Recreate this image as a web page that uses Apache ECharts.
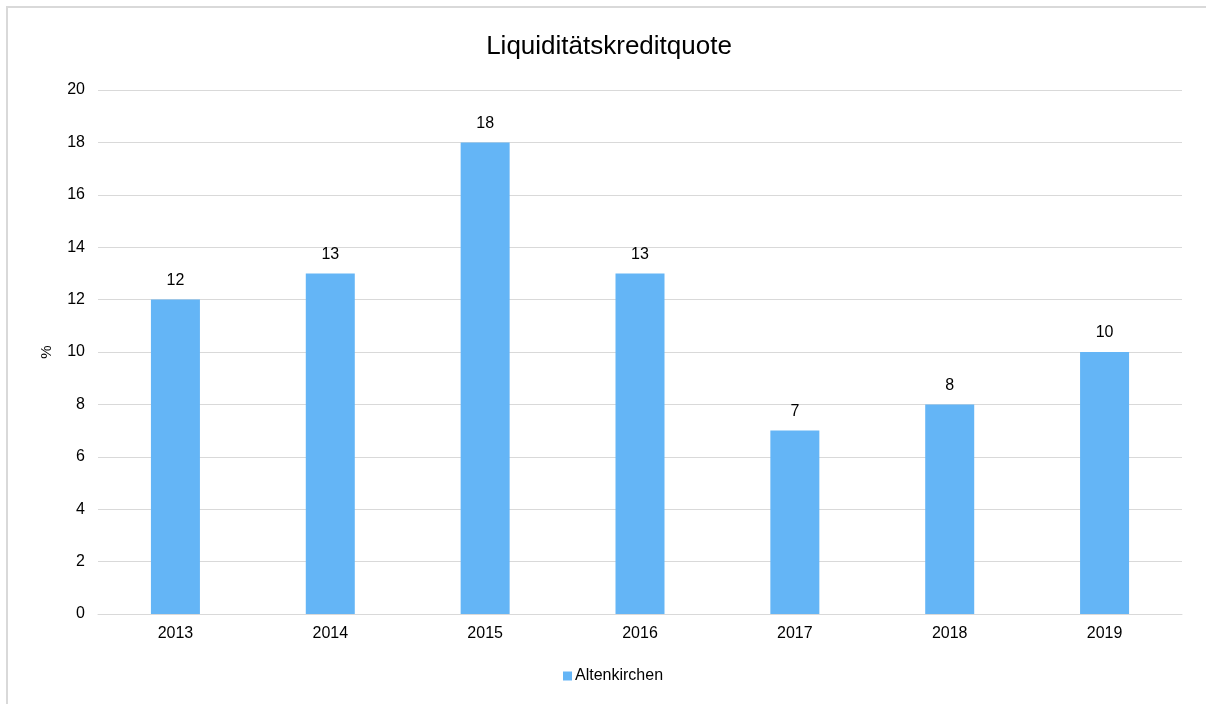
<!DOCTYPE html>
<html><head><meta charset="utf-8">
<script src="https://cdn.jsdelivr.net/npm/echarts@6/dist/echarts.min.js"></script>
<style>html,body{margin:0;padding:0;background:#fff}#c{width:1206px;height:704px}</style>
</head><body><div id="c"></div>
<script>
const categories = ['2013','2014','2015','2016','2017','2018','2019'];
const values = [12, 13, 18, 13, 7, 8, 10];
const seriesName = 'Altenkirchen';
const titleText = 'Liquiditätskreditquote';
const yAxisName = '%';

const chart = echarts.init(document.getElementById('c'), null, {renderer:'canvas'});
const font = 'Liberation Sans, Arial, sans-serif';
chart.setOption({
  animation:false,
  backgroundColor:'#fff',
  graphic:[{type:'rect', shape:{x:7,y:7,width:1220,height:720}, style:{fill:'none', stroke:'#d9d9d9', lineWidth:2}, silent:true}],
  title:{text:titleText, left:604, textAlign:'center', top:29, textStyle:{fontFamily:font, fontSize:26, fontWeight:'normal', color:'#000'}},
  grid:{left:98, right:24, top:90, bottom:90, containLabel:false},
  legend:{bottom:15, left:558, itemWidth:9, itemHeight:9, icon:'rect', itemGap:4,
    textStyle:{fontFamily:font, fontSize:16, color:'#000', padding:[0,0,0,-2]}, data:[seriesName]},
  xAxis:{type:'category', data:categories,
    axisLine:{lineStyle:{color:'#d9d9d9', width:1}}, axisTick:{show:false},
    axisLabel:{fontFamily:font, fontSize:16, color:'#000', margin:12}},
  yAxis:{type:'value', min:0, max:20, interval:2, name:yAxisName, nameLocation:'middle', nameGap:44, nameRotate:90,
    nameTextStyle:{fontFamily:font, fontSize:15, color:'#000'},
    axisLine:{show:false}, axisTick:{show:false},
    axisLabel:{fontFamily:font, fontSize:16, color:'#000', margin:13},
    splitLine:{lineStyle:{color:'#d9d9d9', width:1}}},
  series:[{name:seriesName, type:'bar', data:values, barWidth:49,
    itemStyle:{color:'#64B5F6'},
    label:{show:true, position:'top', distance:11, fontFamily:font, fontSize:16, color:'#000'}}]
});
</script></body></html>
